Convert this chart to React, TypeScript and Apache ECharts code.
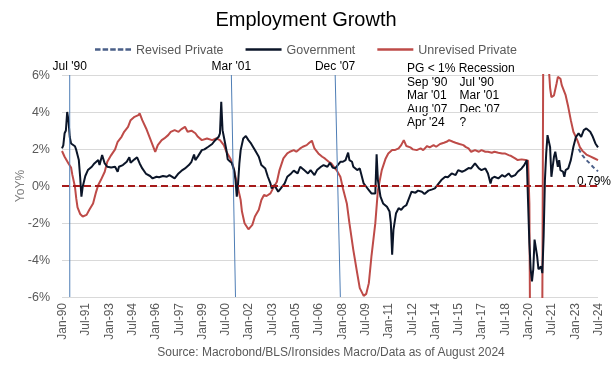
import React, { useEffect, useRef } from "react";
import * as echarts from "echarts";

const MONTHS = ["Jan","Feb","Mar","Apr","May","Jun","Jul","Aug","Sep","Oct","Nov","Dec"];

// Government YoY %
const government: [string, number][] = [
  ["1990-01",2.03],["1990-02",2.2],["1990-03",2.85],["1990-04",3.0],["1990-05",4.0],["1990-06",3.55],["1990-07",2.65],["1990-08",2.3],["1990-11",2.15],["1990-12",1.95],
  ["1991-02",1.4],["1991-03",0.5],["1991-04",-0.58],["1991-05",-0.04],["1991-07",0.54],["1991-09",0.86],["1991-12",1.04],
  ["1992-02",1.22],["1992-05",1.4],["1992-06",1.13],["1992-08",1.67],["1992-10",1.22],["1992-12",1.04],
  ["1993-03",1.0],["1993-06",1.04],["1993-08",0.77],["1993-09",1.04],["1993-12",1.13],
  ["1994-03",1.31],["1994-05",1.55],["1994-06",1.26],["1994-09",1.44],["1994-11",1.55],
  ["1995-01",1.22],["1995-03",0.95],["1995-06",0.65],["1995-09",0.54],["1995-11",0.41],
  ["1996-02",0.5],["1996-04",0.47],["1996-07",0.54],["1996-10",0.5],["1996-12",0.59],
  ["1997-04",0.41],["1997-07",0.68],["1997-10",0.86],["1997-12",0.95],
  ["1998-03",1.13],["1998-05",1.31],["1998-07",1.7],["1998-08",1.4],["1998-10",1.6],
  ["1999-01",1.94],["1999-03",1.98],["1999-06",2.12],["1999-09",2.27],["1999-11",2.45],
  ["2000-02",2.66],["2000-03",2.84],["2000-04",4.55],["2000-05",3.02],["2000-06",2.66],["2000-08",1.94],["2000-09",1.44],["2000-11",1.31],["2000-12",1.26],
  ["2001-02",0.86],["2001-03",0.32],["2001-04",-0.58],["2001-05",0.14],["2001-06",1.22],["2001-07",1.94],["2001-09",2.57],["2001-11",2.7],
  ["2002-01",2.48],["2002-03",2.3],["2002-06",1.94],["2002-09",1.58],["2002-11",1.13],
  ["2003-02",0.95],["2003-04",0.5],["2003-06",0.14],["2003-07",-0.13],["2003-09",0.05],["2003-12",-0.31],
  ["2004-02",-0.13],["2004-05",0.14],["2004-07",0.5],["2004-10",0.68],["2004-12",0.83],
  ["2005-03",0.68],["2005-05",1.04],["2005-08",0.86],["2005-11",0.68],
  ["2006-01",0.86],["2006-04",0.59],["2006-06",0.86],["2006-09",1.04],["2006-11",1.13],
  ["2007-02",1.04],["2007-04",1.25],["2007-06",1.0],["2007-08",0.95],["2007-10",1.13],["2007-12",1.31],
  ["2008-02",1.31],["2008-04",1.4],["2008-06",1.8],["2008-07",1.4],["2008-09",1.31],["2008-10",1.04],
  ["2009-01",0.86],["2009-03",0.95],["2009-04",0.68],["2009-06",0.14],["2009-08",-0.04],["2009-10",-0.22],["2009-12",-0.4],
  ["2010-03",-0.4],["2010-04",1.71],["2010-05",0.32],["2010-07",-0.58],["2010-09",-0.94],["2010-12",-1.12],
  ["2011-02",-1.38],["2011-03",-2.01],["2011-04",-3.72],["2011-05",-2.37],["2011-07",-1.47],["2011-09",-1.2],["2011-11",-1.29],
  ["2012-01",-1.12],["2012-03",-1.03],["2012-05",-0.67],["2012-07",-0.31],["2012-10",-0.36],["2012-12",-0.25],
  ["2013-03",-0.31],["2013-05",-0.43],["2013-08",-0.25],["2013-11",-0.18],
  ["2014-01",-0.13],["2014-04",0.14],["2014-06",0.32],["2014-09",0.5],["2014-11",0.47],
  ["2015-02",0.68],["2015-05",0.59],["2015-07",0.86],["2015-10",0.77],["2015-12",0.83],
  ["2016-03",0.97],["2016-05",0.95],["2016-08",1.22],["2016-11",0.95],
  ["2017-01",0.86],["2017-04",0.95],["2017-06",0.68],["2017-08",0.14],["2017-09",0.41],["2017-11",0.5],
  ["2018-02",0.41],["2018-05",0.59],["2018-07",0.5],["2018-10",0.68],["2018-12",0.5],
  ["2019-03",0.59],["2019-05",0.77],["2019-08",0.95],["2019-10",1.13],["2019-12",1.4],
  ["2020-01",-0.9],["2020-02",-3.1],["2020-03",-4.5],["2020-04",-5.16],["2020-05",-4.5],["2020-06",-2.9],["2020-08",-3.8],["2020-09",-4.5],["2020-11",-4.35],["2020-12",-4.71],
  ["2021-01",-2.73],["2021-02",0.32],["2021-03",1.76],["2021-04",2.75],["2021-06",2.1],["2021-07",0.5],["2021-08",1.04],["2021-09",1.58],["2021-10",1.85],["2021-12",1.04],
  ["2022-01",1.4],["2022-02",0.86],["2022-04",0.77],["2022-05",0.5],["2022-06",0.86],["2022-08",0.95],["2022-10",1.4],["2022-12",2.12],
  ["2023-02",2.66],["2023-04",2.84],["2023-06",2.66],["2023-08",3.02],["2023-10",3.11],
  ["2024-01",2.93],["2024-03",2.66],["2024-05",2.3],["2024-07",2.09],
];

// Unrevised private YoY %
const unrevisedPrivate: [string, number][] = [
  ["1990-01",1.89],["1990-03",1.58],["1990-06",1.22],["1990-08",1.0],["1990-09",0.6],["1990-11",-0.04],["1990-12",-0.67],
  ["1991-01",-1.15],["1991-03",-1.51],["1991-05",-1.65],["1991-08",-1.56],["1991-10",-1.3],
  ["1992-01",-0.94],["1992-03",-0.4],["1992-05",0.05],["1992-07",0.32],["1992-10",0.77],["1992-12",1.31],
  ["1993-03",1.67],["1993-06",1.98],["1993-08",2.39],["1993-11",2.66],
  ["1994-01",2.93],["1994-04",3.2],["1994-06",3.56],["1994-09",3.74],["1994-12",3.83],
  ["1995-01",3.92],["1995-03",3.56],["1995-06",3.11],["1995-09",2.57],["1995-11",2.21],
  ["1996-01",1.85],["1996-03",2.21],["1996-06",2.48],["1996-08",2.57],["1996-11",2.75],
  ["1997-01",2.93],["1997-04",3.02],["1997-07",2.93],["1997-09",3.06],["1997-12",3.2],
  ["1998-02",2.93],["1998-05",2.99],["1998-08",2.85],["1998-10",2.66],
  ["1999-01",2.48],["1999-05",2.57],["1999-09",2.48],["1999-12",2.57],
  ["2000-03",2.48],["2000-06",2.21],["2000-08",1.85],["2000-11",1.49],
  ["2001-01",1.13],["2001-03",0.5],["2001-05",-0.13],["2001-07",-0.76],["2001-08",-1.38],["2001-10",-2.01],
  ["2002-01",-2.34],["2002-04",-2.1],["2002-06",-1.65],["2002-09",-1.29],["2002-11",-0.76],
  ["2003-01",-0.49],["2003-03",-0.54],["2003-06",-0.4],["2003-08",-0.13],["2003-11",0.23],
  ["2004-01",0.86],["2004-04",1.49],["2004-07",1.76],["2004-09",1.85],["2004-12",1.94],
  ["2005-02",1.85],["2005-05",2.03],["2005-07",2.12],["2005-10",2.21],["2005-12",2.34],
  ["2006-02",2.45],["2006-04",2.03],["2006-07",1.76],["2006-10",1.58],["2006-12",1.49],
  ["2007-03",1.31],["2007-05",1.22],["2007-07",1.04],["2007-09",0.86],["2007-12",0.5],
  ["2008-02",-0.13],["2008-05",-0.94],["2008-07",-2.01],["2008-10",-3.45],
  ["2009-01",-4.71],["2009-03",-5.52],["2009-06",-5.94],["2009-08",-5.83],["2009-10",-5.25],["2009-12",-3.81],
  ["2010-03",-2.01],["2010-05",-0.22],["2010-08",0.86],["2010-11",1.49],
  ["2011-01",1.76],["2011-04",1.94],["2011-06",1.94],["2011-09",2.03],["2011-11",2.21],
  ["2012-01",2.48],["2012-03",2.16],["2012-06",2.09],["2012-08",1.98],["2012-11",1.94],
  ["2013-02",2.03],["2013-04",1.94],["2013-07",2.16],["2013-09",2.09],["2013-12",2.21],
  ["2014-02",2.12],["2014-05",2.27],["2014-08",2.34],["2014-10",2.39],["2014-12",2.48],
  ["2015-03",2.39],["2015-05",2.34],["2015-08",2.27],["2015-11",2.21],
  ["2016-01",2.1],["2016-03",2.03],["2016-05",1.85],["2016-08",1.94],["2016-11",1.85],
  ["2017-01",1.94],["2017-04",1.85],["2017-06",1.85],["2017-09",1.8],["2017-11",1.85],
  ["2018-02",1.8],["2018-05",1.76],["2018-07",1.76],["2018-10",1.67],["2018-12",1.62],
  ["2019-03",1.49],["2019-05",1.4],["2019-08",1.44],["2019-11",1.4],
  ["2020-01",1.37],["2020-02",-0.94],["2020-03",-13.5],["2020-05",-11],["2020-07",-9],["2020-09",-8],["2020-11",-7],["2020-12",-6.5],
  ["2021-01",13],["2021-03",10],["2021-04",8],["2021-05",6.4],["2021-06",5.3],["2021-07",4.8],["2021-09",4.9],["2021-11",5.54],["2021-12",5.9],
  ["2022-02",5.8],["2022-03",5.45],["2022-06",4.91],["2022-08",4.28],["2022-10",3.56],["2022-12",2.93],
  ["2023-03",2.48],["2023-05",2.1],["2023-07",1.9],["2023-10",1.7],
  ["2024-01",1.6],["2024-04",1.5],["2024-07",1.4],
];

// Revised private YoY % (only diverges at the end)
const revisedPrivate: [string, number][] = [
  ["2023-04",2.0],["2023-07",1.65],["2023-10",1.4],["2024-01",1.2],["2024-03",1.04],["2024-05",0.92],["2024-07",0.79],
];

const recessionMarks: [string, string][] = [
  ["Jul '90", "1990-07"],
  ["Mar '01", "2001-03"],
  ["Dec '07", "2007-12"],
];
const markTopShift = [0.05, 3.2, 4];

const tableHeader = "PG < 1% Recession";
const tableRows: [string, string][] = [
  ["Sep '90", "Jul '90"],
  ["Mar '01", "Mar '01"],
  ["Aug '07", "Dec '07"],
  ["Apr '24", "?"],
];

const sourceText = "Source: Macrobond/BLS/Ironsides Macro/Data as of August 2024";
const START_YEAR = 1990;
const X_MAX = 414; // Jul-24
const FONT = "'Liberation Sans', Arial, sans-serif";

const toM = (s: string) => {
  const [y, m] = s.split("-").map(Number);
  return (y - START_YEAR) * 12 + (m - 1);
};
const monthLabel = (v: number) => {
  const y = START_YEAR + Math.floor(v / 12);
  return MONTHS[v % 12] + "-" + String(y % 100).padStart(2, "0");
};

const SOLID_ICON = "path://M0,0 L36,0 L36,2.4 L0,2.4 Z";
const DASH_ICON =
  "path://M0,0 L5.5,0 L5.5,2.4 L0,2.4 Z M7.6,0 L13.1,0 L13.1,2.4 L7.6,2.4 Z M15.2,0 L20.7,0 L20.7,2.4 L15.2,2.4 Z M22.8,0 L28.3,0 L28.3,2.4 L22.8,2.4 Z M30.4,0 L36,0 L36,2.4 L30.4,2.4 Z";

export default function App() {
  const ref = useRef<HTMLDivElement>(null);
  useEffect(() => {
    if (!ref.current) return;
    const chart = echarts.init(ref.current, undefined, { renderer: "svg" });
    const conv = (arr: [string, number][]) => arr.map(([d, v]) => [toM(d), v]);
    const revData: any[] = conv(revisedPrivate);
    const last = revData[revData.length - 1];
    const markData: any[] = recessionMarks.map(([name, d], i) => [
      {
        coord: [toM(d) - markTopShift[i], 6],
        name,
        label: {
          show: true,
          position: "start",
          distance: 3,
          formatter: name,
          color: "#000",
          fontSize: 12,
          fontFamily: FONT,
        },
        lineStyle: { color: "#4E7DB5", width: 1, type: "solid" },
      },
      { coord: [toM(d), -6] },
    ]);
    markData.push({
      yAxis: 0,
      label: { show: false },
      lineStyle: { color: "#A51A1A", width: 2, type: [7, 4] },
    });

    const tableGraphics: any[] = [
      {
        type: "text",
        x: 407,
        y: 68,
        style: { text: tableHeader, fill: "#000", font: `12px ${FONT}`, align: "left", verticalAlign: "middle" },
      },
    ];
    tableRows.forEach(([a, b], i) => {
      const y = 81.7 + i * 13.4;
      tableGraphics.push({
        type: "text", x: 407, y,
        style: { text: a, fill: "#000", font: `12px ${FONT}`, align: "left", verticalAlign: "middle" },
      });
      tableGraphics.push({
        type: "text", x: 459.5, y,
        style: { text: b, fill: "#000", font: `12px ${FONT}`, align: "left", verticalAlign: "middle" },
      });
    });
    tableGraphics.push({
      type: "text",
      x: 331,
      y: 352,
      style: { text: sourceText, fill: "#595959", font: `12px ${FONT}`, align: "center", verticalAlign: "middle" },
    });

    chart.setOption({
      animation: false,
      textStyle: { fontFamily: FONT },
      title: {
        text: "Employment Growth",
        left: "center",
        top: 4,
        textStyle: { fontSize: 20, fontWeight: "normal", color: "#000", fontFamily: FONT },
      },
      legend: {
        top: 38,
        left: "center",
        itemWidth: 36,
        itemHeight: 2.4,
        itemGap: 22,
        textStyle: { color: "#595959", fontSize: 12.5, fontFamily: FONT },
        data: [
          { name: "Revised Private", icon: DASH_ICON, itemStyle: { color: "#4A5F88" } },
          { name: "Government", icon: SOLID_ICON, itemStyle: { color: "#0B1528" } },
          { name: "Unrevised Private", icon: SOLID_ICON, itemStyle: { color: "#BE4B48" } },
        ],
      },
      grid: { left: 62, right: 14, top: 75, bottom: 68 },
      xAxis: {
        type: "value",
        min: 0,
        max: X_MAX,
        interval: 18,
        axisLine: { show: false, onZero: false },
        axisTick: { show: false },
        splitLine: { show: false },
        axisLabel: {
          rotate: 90,
          margin: 6,
          color: "#595959",
          fontSize: 12,
          fontFamily: FONT,
          showMinLabel: true,
          showMaxLabel: true,
          formatter: (v: number) => monthLabel(Math.round(v)),
        },
      },
      yAxis: {
        type: "value",
        min: -6,
        max: 6,
        interval: 2,
        name: "YoY%",
        nameLocation: "middle",
        nameGap: 36,
        nameMoveOverlap: false,
        nameTextStyle: { color: "#7F7F7F", fontSize: 12, fontFamily: FONT },
        axisLine: { show: false },
        axisTick: { show: false },
        axisLabel: {
          margin: 12,
          color: "#595959",
          fontSize: 12.5,
          fontFamily: FONT,
          formatter: (v: number) => v + "%",
        },
        splitLine: { lineStyle: { color: "#D9D9D9", width: 1 } },
      },
      series: [
        {
          name: "Revised Private",
          type: "line",
          symbol: "none",
          z: 4,
          data: revData,
          lineStyle: { color: "#4A5F88", width: 2, type: [4, 3] },
          itemStyle: { color: "#4A5F88" },
          markPoint: {
            silent: true,
            data: [
              {
                coord: last,
                symbol: "circle",
                symbolSize: 2,
                itemStyle: { color: "rgba(0,0,0,0)" },
                label: {
                  show: true,
                  position: "bottom",
                  distance: 3,
                  offset: [-4, 0],
                  formatter: last[1].toFixed(2) + "%",
                  color: "#000",
                  fontSize: 12,
                  fontFamily: FONT,
                },
              },
            ],
          },
        },
        {
          name: "Government",
          type: "line",
          symbol: "none",
          z: 3,
          data: conv(government),
          lineStyle: { color: "#0B1528", width: 2 },
          itemStyle: { color: "#0B1528" },
        },
        {
          name: "Unrevised Private",
          type: "line",
          symbol: "none",
          z: 2,
          data: conv(unrevisedPrivate),
          lineStyle: { color: "#BE4B48", width: 2 },
          itemStyle: { color: "#BE4B48" },
          markLine: {
            silent: true,
            symbol: ["none", "none"],
            data: markData,
          },
        },
      ],
      graphic: tableGraphics,
    });
    return () => chart.dispose();
  }, []);
  return (
    <div
      ref={ref}
      style={{ position: "fixed", left: 0, top: 0, width: 612, height: 365 }}
    />
  );
}
